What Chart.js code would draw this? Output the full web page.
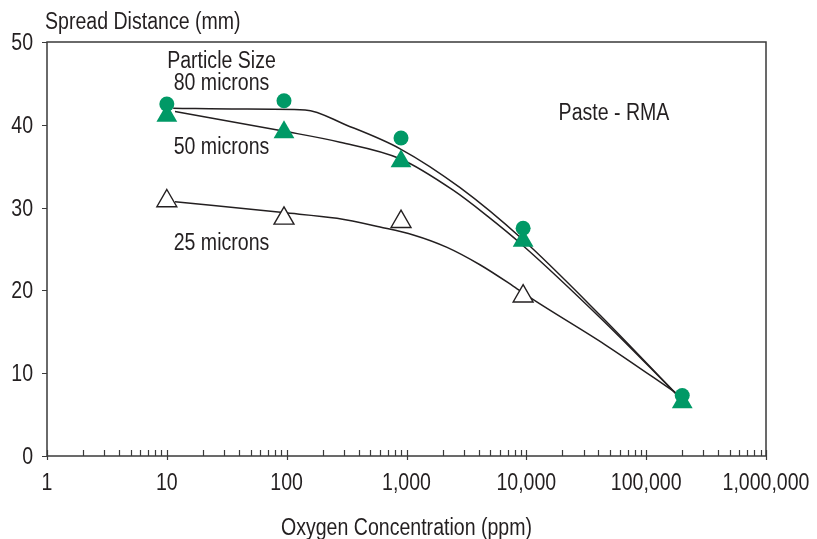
<!DOCTYPE html>
<html>
<head>
<meta charset="utf-8">
<script src="https://cdn.jsdelivr.net/npm/chart.js@4/dist/chart.umd.min.js"></script>
<style>
  html, body { margin: 0; padding: 0; background: #ffffff; }
  #wrap { width: 817px; height: 539px; }
</style>
</head>
<body>
<div id="wrap"><canvas id="spreadChart" width="817" height="539"></canvas></div>
<script>
const oxygenPpm = [10, 95, 900, 9400, 200000];
const spread80 = [42.5, 42.9, 38.4, 27.5, 7.3];
const spread50 = [41.1, 39.1, 35.6, 26.0, 6.5];
const oxygenPpm25 = [10, 95, 900, 9400];
const spread25 = [30.8, 28.7, 28.3, 19.3];

const fit80X = [11.3, 40.8, 142.5, 313, 885, 2800, 9230, 41300, 178000];
const fit80Y = [42.0, 41.9, 41.8, 39.98, 37.1, 32.4, 26.2, 17.0, 7.5];
const fit50X = [11.7, 93.3, 279, 885, 2450, 4710, 9400, 41300, 178000];
const fit50Y = [41.6, 39.25, 37.9, 35.9, 32.1, 29.0, 25.4, 16.7, 7.5];
const fit25X = [11.7, 93.3, 263, 602, 1140, 2180, 4100, 7810, 11100, 45900, 182000];
const fit25Y = [30.7, 29.4, 28.7, 27.65, 26.7, 25.2, 23.1, 20.5, 19.0, 13.4, 7.5];

const xTickValues = [1, 10, 100, 1000, 10000, 100000, 1000000];
const yTickValues = [0, 10, 20, 30, 40, 50];

const green = '#009966';
const ink = '#231f20';
const axisColor = '#3a3a3a';
const fontFamily = "'Liberation Sans', Arial, sans-serif";

const pts = (xs, ys) => xs.map((x, i) => ({ x: x, y: ys[i] }));

// texte un peu condensé, comme la police d'origine
function narrowText(ctx, text, x, y, align) {
    ctx.save();
    ctx.translate(x, y);
    ctx.scale(0.85, 1);
    ctx.textAlign = align;
    ctx.fillText(text, 0, 0);
    ctx.restore();
}

// Cadre, graduations et annotations
const decorPlugin = {
    id: 'decor',
    afterDraw(chart) {
        const ctx = chart.ctx;
        const area = chart.chartArea;
        const xs = chart.scales.x;
        const ys = chart.scales.y;

        ctx.save();
        ctx.strokeStyle = axisColor;
        ctx.lineWidth = 1.5;
        ctx.strokeRect(area.left, area.top, area.right - area.left, area.bottom - area.top);

        // graduations
        ctx.lineWidth = 1.2;
        ctx.beginPath();
        for (let d = 1; d <= 1000000; d *= 10) {
            const px = Math.round(xs.getPixelForValue(d)) + 0.5;
            ctx.moveTo(px, area.bottom - 6);
            ctx.lineTo(px, area.bottom + 4);
            if (d === 1000000) break;
            for (let m = 2; m <= 9; m++) {
                const mx = Math.round(xs.getPixelForValue(d * m)) + 0.5;
                ctx.moveTo(mx, area.bottom - 6);
                ctx.lineTo(mx, area.bottom);
            }
        }
        yTickValues.forEach(v => {
            const py = Math.round(ys.getPixelForValue(v)) + 0.5;
            ctx.moveTo(area.left - 5, py);
            ctx.lineTo(area.left, py);
        });
        ctx.stroke();

        ctx.fillStyle = ink;
        ctx.font = '23px ' + fontFamily;
        ctx.textBaseline = 'alphabetic';

        xTickValues.forEach(v => {
            narrowText(ctx, v.toLocaleString('en-US'), xs.getPixelForValue(v), 490, 'center');
        });
        yTickValues.forEach(v => {
            narrowText(ctx, String(v), 33, ys.getPixelForValue(v) + 8, 'right');
        });

        narrowText(ctx, 'Spread Distance (mm)', 45, 29, 'left');
        narrowText(ctx, 'Oxygen Concentration (ppm)', (area.left + area.right) / 2, 535, 'center');
        narrowText(ctx, 'Particle Size', 221.5, 68, 'center');
        narrowText(ctx, '80 microns', 221.5, 90, 'center');
        narrowText(ctx, '50 microns', 221.5, 154, 'center');
        narrowText(ctx, '25 microns', 221.5, 250, 'center');
        narrowText(ctx, 'Paste - RMA', 614, 120, 'center');
        ctx.restore();
    }
};

const ctx = document.getElementById('spreadChart').getContext('2d');
new Chart(ctx, {
    type: 'scatter',
    data: {
        datasets: [
            {
                label: '80 microns',
                data: pts(oxygenPpm, spread80),
                pointStyle: 'circle',
                pointRadius: 7.5,
                backgroundColor: green,
                borderColor: green,
                borderWidth: 0,
                showLine: false
            },
            {
                label: '50 microns',
                data: pts(oxygenPpm, spread50),
                pointStyle: 'triangle',
                pointRadius: 12,
                backgroundColor: green,
                borderColor: green,
                borderWidth: 0,
                showLine: false
            },
            {
                label: '25 microns',
                data: pts(oxygenPpm25, spread25),
                pointStyle: 'triangle',
                pointRadius: 11.5,
                backgroundColor: '#ffffff',
                borderColor: ink,
                borderWidth: 1.4,
                showLine: false
            },
            {
                label: 'fit 80',
                data: pts(fit80X, fit80Y),
                showLine: true,
                pointRadius: 0,
                borderColor: ink,
                borderWidth: 1.5,
                cubicInterpolationMode: 'monotone'
            },
            {
                label: 'fit 50',
                data: pts(fit50X, fit50Y),
                showLine: true,
                pointRadius: 0,
                borderColor: ink,
                borderWidth: 1.5,
                cubicInterpolationMode: 'monotone'
            },
            {
                label: 'fit 25',
                data: pts(fit25X, fit25Y),
                showLine: true,
                pointRadius: 0,
                borderColor: ink,
                borderWidth: 1.5,
                cubicInterpolationMode: 'monotone'
            }
        ]
    },
    options: {
        responsive: false,
        animation: false,
        layout: {
            padding: { top: 42, right: 51, left: 0, bottom: 0 }
        },
        plugins: {
            legend: { display: false },
            tooltip: { enabled: false }
        },
        scales: {
            x: {
                type: 'logarithmic',
                min: 1,
                max: 1000000,
                afterFit: s => { s.height = 83; },
                grid: { display: false, drawTicks: false },
                border: { display: false },
                ticks: { display: false }
            },
            y: {
                min: 0,
                max: 50,
                afterFit: s => { s.width = 47; },
                grid: { display: false, drawTicks: false },
                border: { display: false },
                ticks: { display: false }
            }
        }
    },
    plugins: [decorPlugin]
});
</script>
</body>
</html>
